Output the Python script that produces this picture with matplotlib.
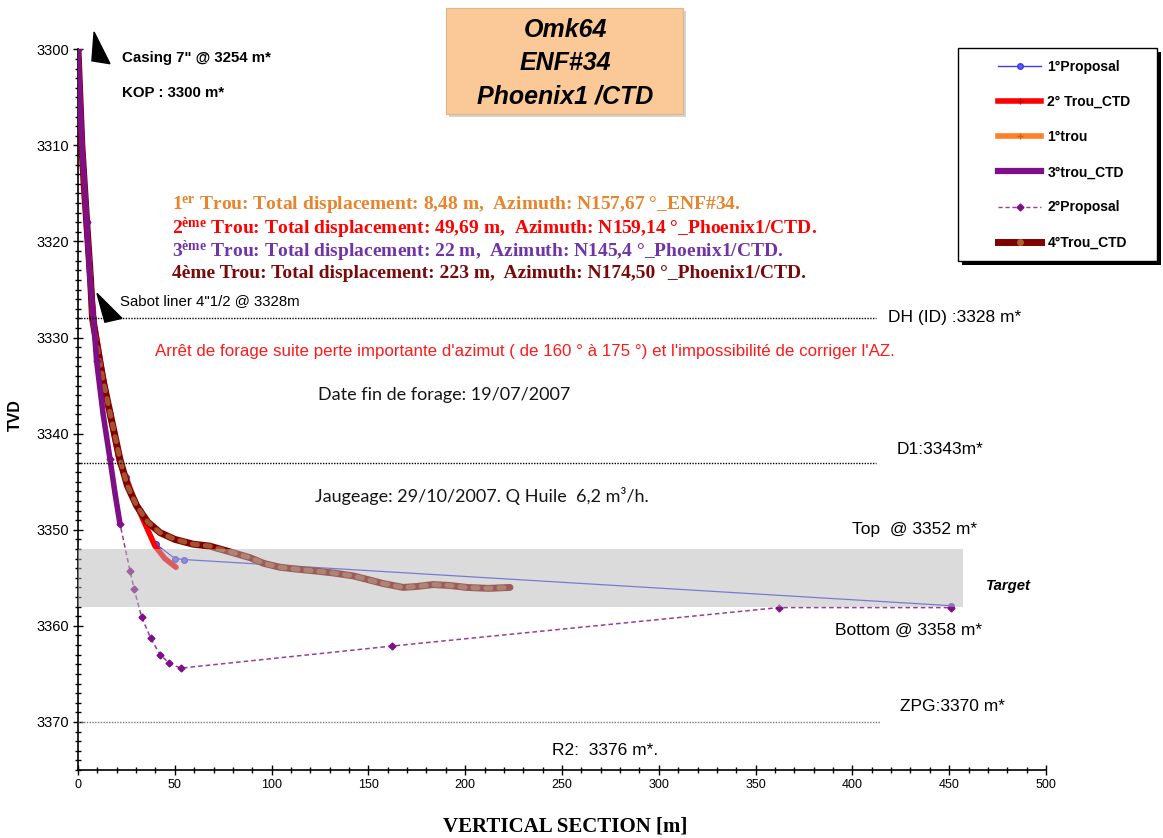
import matplotlib
matplotlib.use("Agg")
import matplotlib.pyplot as plt
from matplotlib.patches import Rectangle, Polygon
from matplotlib.lines import Line2D
from matplotlib.ticker import MultipleLocator

plt.rcParams['font.family'] = ['Liberation Sans', 'DejaVu Sans']
plt.rcParams['mathtext.fontset'] = 'custom'
plt.rcParams['mathtext.rm'] = 'Liberation Serif:bold'
plt.rcParams['mathtext.it'] = 'Liberation Serif:bold'
plt.rcParams['mathtext.bf'] = 'Liberation Serif:bold'

# ---- well trajectories: vertical section [m] vs TVD [m] ----
prop1_vs = [0, 4.5, 8, 16.5, 25, 32, 40.3, 50.1, 54.9, 450.9]
prop1_tvd = [3300, 3318, 3328, 3338, 3344.5, 3348, 3351.5, 3353.0, 3353.1, 3357.9]

trou2_vs = [0, 2, 4.5, 6.5, 8, 12, 16.5, 21.5, 25.1, 28.5, 32, 36, 39.8, 44.9, 50.6]
trou2_tvd = [3300, 3310, 3318, 3324, 3328, 3333, 3338, 3343, 3344.7, 3346.6, 3348.2,
             3350.0, 3351.7, 3353.0, 3353.9]

trou1_vs = [0, 1.0, 2.5, 4.5, 6.5, 8.48]
trou1_tvd = [3300, 3308, 3314, 3319, 3324, 3328]

trou3_vs = [0, 2.0, 4.5, 6.2, 8.0, 9.6, 13.0, 16.5, 19.2, 21.7]
trou3_tvd = [3300, 3310, 3318, 3324, 3328, 3332.4, 3338, 3342.6, 3346.3, 3349.4]

prop2_vs = [0, 4.5, 9.6, 16.5, 21.7, 26.9, 29.0, 32.9, 37.6, 42.4, 47.2, 53.0,
            162.3, 361.9, 450.9]
prop2_tvd = [3300, 3318, 3332.4, 3342.6, 3349.4, 3354.3, 3356.2, 3359.1, 3361.3,
             3363.0, 3363.9, 3364.4, 3362.1, 3358.1, 3358.1]

trou4_vs = [0, 2, 4.5, 6.5, 7.5, 10, 13, 16.5, 21.7, 25.5, 30.3, 36, 42.4, 50, 59.5,
            68, 76.8, 88.8, 96, 104.3, 113, 123.3, 132, 142.2, 150, 157.7, 168, 175,
            183.5, 192, 200.8, 212, 223.1]
trou4_tvd = [3300, 3310, 3318, 3324, 3328, 3331, 3334.5, 3337.8, 3342.7, 3345.4,
             3347.5, 3349.2, 3350.3, 3351.0, 3351.5, 3351.7, 3352.2, 3352.9, 3353.5,
             3353.9, 3354.1, 3354.3, 3354.5, 3354.8, 3355.2, 3355.6, 3356.0, 3355.9,
             3355.7, 3355.8, 3356.0, 3356.1, 3356.0]

# reservoir target and reference depths
target_top, target_bottom, target_end = 3352, 3358, 457
ref_depths = [3328, 3343, 3370]
ref_ends = [412, 412, 414]

legend_labels = ["1°Proposal", "2° Trou_CTD", "1°trou", "3°trou_CTD",
                 "2°Proposal", "4°Trou_CTD"]

W, H = 1163, 838
fig = plt.figure(figsize=(W / 100, H / 100), dpi=100)
ax = fig.add_axes([78 / W, 1 - 770 / H, 968 / W, (770 - 49.3) / H])

c_blue = '#3b3bf0'
c_red = '#ff0000'
c_orange = '#ff7f27'
c_purple = '#7f0f86'
c_prop2 = '#9a3c9e'
c_maroon = '#800000'
c_dots = '#a4532e'

ax.plot(trou1_vs, trou1_tvd, color=c_orange, lw=3.5, zorder=1, solid_capstyle='round')
ax.plot(prop1_vs, prop1_tvd, color=c_blue, lw=0.9, marker='o', ms=4,
        mfc='#6a6af5', mec=c_blue, zorder=2)
ax.plot(trou2_vs, trou2_tvd, color=c_red, lw=4, zorder=3, solid_capstyle='round')
ax.plot(trou4_vs, trou4_tvd, color=c_maroon, lw=5, zorder=4, solid_capstyle='round')
ax.plot(trou4_vs, trou4_tvd, color=c_dots, lw=3.6, ls=(0, (1, 1.6)),
        dash_capstyle='round', zorder=4.5)
ax.plot(prop2_vs, prop2_tvd, color=c_prop2, lw=1.1, ls=(0, (3, 2)), marker='D', ms=3.5,
        mfc=c_purple, mec=c_purple, zorder=5)
ax.plot(trou3_vs, trou3_tvd, color=c_purple, lw=4, zorder=6, solid_capstyle='round')

# target band, drawn translucent over the trajectories
ax.add_patch(Rectangle((0, target_top), target_end, target_bottom - target_top,
                       facecolor='#b8b8b8', alpha=0.5, edgecolor='none', zorder=7))

# reference depth lines
for d, xe in zip(ref_depths, ref_ends):
    col = '#777777' if d == 3370 else 'black'
    ax.plot([0, xe], [d, d], color=col, lw=1.0, ls=(0, (1, 1)), zorder=8)

# shoe markers
ax.add_patch(Polygon([(8.3, 3298.2), (7.2, 3301.2), (16.5, 3301.5)], closed=True,
                     facecolor='black', edgecolor='black', clip_on=False, zorder=9))
ax.add_patch(Polygon([(9.8, 3325.4), (13.9, 3328.4), (22.7, 3328.0)], closed=True,
                     facecolor='black', edgecolor='black', clip_on=False, zorder=9))

ax.set_xlim(0, 500)
ax.set_ylim(3375, 3300)
for s in ['top', 'right']:
    ax.spines[s].set_visible(False)
ax.spines['left'].set_linewidth(1.2)
ax.spines['bottom'].set_linewidth(1.2)
ax.xaxis.set_major_locator(MultipleLocator(50))
ax.xaxis.set_minor_locator(MultipleLocator(10))
ax.yaxis.set_major_locator(MultipleLocator(10))
ax.yaxis.set_minor_locator(MultipleLocator(1))
ax.tick_params(axis='both', which='major', direction='inout', length=7, width=1, pad=3)
ax.tick_params(axis='y', which='major', labelsize=10.5)
ax.tick_params(axis='x', which='major', labelsize=9)
ax.tick_params(axis='both', which='minor', direction='inout', length=5, width=1)

txt_kw = dict(zorder=10, va='center', ha='left')
ax.text(22.7, 3300.9, 'Casing 7" @ 3254 m*', fontsize=10.8, fontweight='bold', **txt_kw)
ax.text(22.7, 3304.5, 'KOP : 3300 m*', fontsize=10.8, fontweight='bold', **txt_kw)
ax.text(21.7, 3326.2, 'Sabot liner 4"1/2 @ 3328m', fontsize=10.8, **txt_kw)

serif = dict(fontfamily=['Liberation Serif', 'DejaVu Serif'], fontweight='bold',
             fontsize=14)
ax.text(48.6, 3316.2, r'1$^{\mathrm{er}}$ Trou: Total displacement: 8,48 m,  '
        r'Azimuth: N157,67 °_ENF#34.', color='#e8842c', **serif, **txt_kw)
ax.text(48.6, 3318.6, r'2$^{\mathrm{ème}}$ Trou: Total displacement: 49,69 m,  '
        r'Azimuth: N159,14 °_Phoenix1/CTD.', color='#ff0000', **serif, **txt_kw)
ax.text(48.6, 3321.0, r'3$^{\mathrm{ème}}$ Trou: Total displacement: 22 m,  '
        r'Azimuth: N145,4 °_Phoenix1/CTD.', color='#7034a8', **serif, **txt_kw)
ax.text(48.6, 3323.3, '4ème Trou: Total displacement: 223 m,  '
        'Azimuth: N174,50 °_Phoenix1/CTD.', color='#7a0a0a', **serif, **txt_kw)

ax.text(39.8, 3331.5, "Arrêt de forage suite perte importante d'azimut ( de 160 ° à 175 °) "
        "et l'impossibilité de corriger l'AZ.", color='#ff1a1a', fontsize=12.2, **txt_kw)
calib = dict(fontfamily=['Lato', 'DejaVu Sans'], fontsize=13, color='#151515')
ax.text(124, 3336.0, 'Date fin de forage: 19/07/2007', **calib, **txt_kw)
ax.text(122.4, 3346.5, 'Jaugeage: 29/10/2007. Q Huile  6,2 m³/h.', **calib, **txt_kw)

lab = dict(fontsize=12.5)
ax.text(418.4, 3327.9, 'DH (ID) :3328 m*', **lab, **txt_kw)
ax.text(423, 3341.6, 'D1:3343m*', **lab, **txt_kw)
ax.text(399.8, 3350.0, 'Top  @ 3352 m*', **lab, **txt_kw)
ax.text(469, 3355.9, 'Target', fontsize=10.7, fontweight='bold', fontstyle='italic',
        clip_on=False, **txt_kw)
ax.text(391, 3360.5, 'Bottom @ 3358 m*', **lab, **txt_kw)
ax.text(424.6, 3368.4, 'ZPG:3370 m*', **lab, **txt_kw)
ax.text(244.8, 3373.0, 'R2:  3376 m*.', **lab, **txt_kw)

fig.text(15 / W, 1 - 415 / H, 'TVD', rotation=90, fontsize=11.5, fontweight='bold',
         ha='center', va='center')
fig.text(565 / W, 1 - 826 / H, 'VERTICAL SECTION [m]', fontsize=15, fontweight='bold',
         fontfamily=['Liberation Serif', 'DejaVu Serif'], ha='center', va='center')

# title box
bx0, by0, bx1, by1 = 446, 8, 683, 114
fig.patches.append(Rectangle(((bx0 + 3) / W, 1 - (by1 + 3) / H), (bx1 - bx0) / W,
                             (by1 - by0) / H, transform=fig.transFigure,
                             facecolor='#d4d4d4', edgecolor='none', zorder=1))
fig.patches.append(Rectangle((bx0 / W, 1 - by1 / H), (bx1 - bx0) / W, (by1 - by0) / H,
                             transform=fig.transFigure, facecolor='#fbc898',
                             edgecolor='#e2b487', lw=0.8, zorder=2))
for yy, t in zip([30, 63, 97], ['Omk64', 'ENF#34', 'Phoenix1 /CTD']):
    fig.text(565 / W, 1 - yy / H, t, fontsize=18, fontweight='bold', fontstyle='italic',
             ha='center', va='center', zorder=3)

# legend box
lx0, ly0, lx1, ly1 = 958, 48, 1157, 261
fig.patches.append(Rectangle(((lx0 + 4) / W, 1 - (ly1 + 4) / H), (lx1 - lx0) / W,
                             (ly1 - ly0) / H, transform=fig.transFigure,
                             facecolor='black', edgecolor='none', zorder=1))
fig.patches.append(Rectangle((lx0 / W, 1 - ly1 / H), (lx1 - lx0) / W, (ly1 - ly0) / H,
                             transform=fig.transFigure, facecolor='white',
                             edgecolor='black', lw=1.0, zorder=2))
handles = [
    Line2D([], [], color=c_blue, lw=1.0, marker='o', ms=4, mfc='#5a5af0', mec=c_blue),
    Line2D([], [], color=c_red, lw=4, marker='+', ms=4, mec='#c00000'),
    Line2D([], [], color=c_orange, lw=4, marker='+', ms=4, mec='#e06010'),
    Line2D([], [], color=c_purple, lw=4.5),
    Line2D([], [], color=c_prop2, lw=1.0, ls=(0, (3, 2)), marker='D', ms=3.5,
           mfc=c_purple, mec=c_purple),
    Line2D([], [], color=c_maroon, lw=5, marker='o', ms=4, mfc='#b0602a', mec='#b0602a'),
]
leg = fig.legend(handles, legend_labels, loc='upper left',
                 bbox_to_anchor=(998 / W, 1 - 60 / H), bbox_transform=fig.transFigure,
                 frameon=False, numpoints=1, handlelength=3.1, handletextpad=0.45,
                 borderpad=0, borderaxespad=0, labelspacing=1.52,
                 prop={'family': ['Liberation Sans', 'DejaVu Sans'], 'weight': 'bold',
                       'size': 10})
leg.set_zorder(5)

fig.savefig('out.png', dpi=100)
